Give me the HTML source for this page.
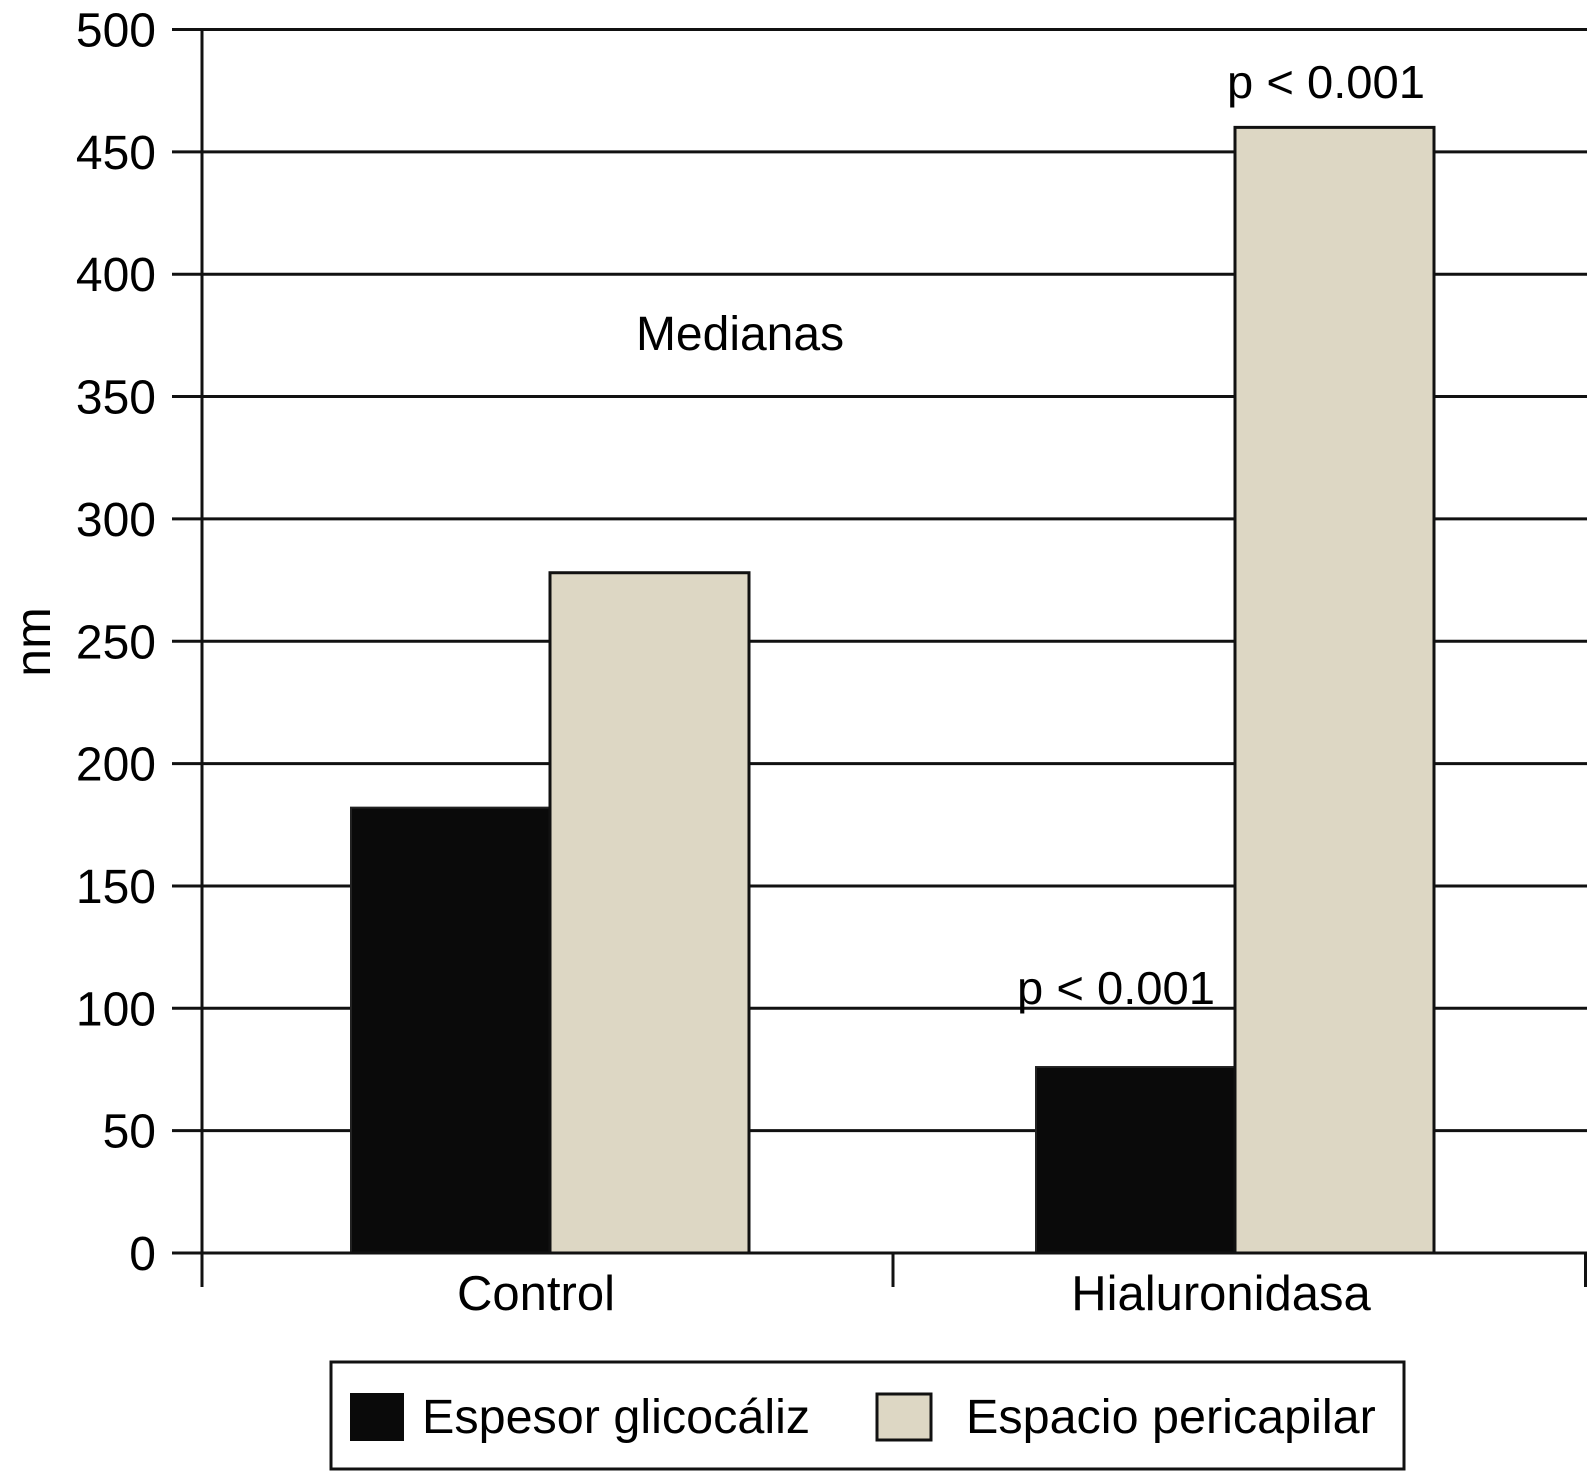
<!DOCTYPE html>
<html><head><meta charset="utf-8"><style>
html,body{margin:0;padding:0;background:#fff;}
svg{display:block;font-family:"Liberation Sans",Arial,sans-serif;}
</style></head><body>
<svg id="chart" width="1590" height="1473" viewBox="0 0 1590 1473">
<g id="grid"></g><g id="bars"></g><g id="axes"></g>
<text x="33" y="642" font-size="50" text-anchor="middle" dominant-baseline="central" transform="rotate(-90 33 642)">nm</text>
<text x="740" y="350" font-size="48" text-anchor="middle">Medianas</text>
<text x="1227" y="98" font-size="46" textLength="198" lengthAdjust="spacingAndGlyphs">p &lt; 0.001</text>
<text x="1017" y="1004" font-size="46" textLength="198" lengthAdjust="spacingAndGlyphs">p &lt; 0.001</text>
<g>
<rect x="331" y="1362" width="1073" height="107" fill="#fff" stroke="#111" stroke-width="3"/>
<rect x="350" y="1393" width="54" height="48" fill="#0a0a0a"/>
<text x="422" y="1433" font-size="48.5">Espesor glicocáliz</text>
<rect x="877" y="1394" width="54" height="46" fill="#ddd7c4" stroke="#111" stroke-width="3"/>
<text x="966" y="1433" font-size="48.5">Espacio pericapilar</text>
</g>
</svg>
<script>
const categories = ["Control", "Hialuronidasa"];
const glicocaliz = [182, 76];
const pericapilar = [278, 460];
const yTicks = [0, 50, 100, 150, 200, 250, 300, 350, 400, 450, 500];

const NS = "http://www.w3.org/2000/svg";
const y0 = 1253, yTop = 29.5, yMax = 500;
function y(v){ return y0 - (v / yMax) * (y0 - yTop); }
const axisX = 202, rightX = 1587;
const firstCenter = 550, groupStep = 685;
function groupCenter(i){ return firstCenter + groupStep * i; }
const barW = 199;
function mk(tag, attrs, parent){
  const el = document.createElementNS(NS, tag);
  for (const k in attrs) el.setAttribute(k, attrs[k]);
  parent.appendChild(el);
  return el;
}
const grid = document.getElementById("grid");
const bars = document.getElementById("bars");
const axes = document.getElementById("axes");
yTicks.forEach(t => {
  const gl = mk("line", {x1: 172, x2: rightX, y1: y(t), y2: y(t), stroke: "#111", "stroke-width": 3}, grid);
  
  
  const tx = mk("text", {x: 156, y: y(t) + 17, "font-size": 48, "text-anchor": "end"}, axes);
  tx.textContent = t;
  
  
});
categories.forEach((c, i) => {
  const cx = groupCenter(i);
  const b1 = mk("rect", {x: cx - barW, y: y(glicocaliz[i]), width: barW, height: y0 - y(glicocaliz[i]), fill: "#0a0a0a", stroke: "#222", "stroke-width": 2}, bars);
  
  
  const b2 = mk("rect", {x: cx, y: y(pericapilar[i]), width: barW, height: y0 - y(pericapilar[i]), fill: "#ddd7c4", stroke: "#111", "stroke-width": 3}, bars);
  
  
  const lbl = mk("text", {x: cx - 14, y: 1310, "font-size": 49, "text-anchor": "middle"}, axes);
  lbl.textContent = c;
  
  
});
const ya = mk("line", {x1: axisX, x2: axisX, y1: yTop - 1.5, y2: 1287, stroke: "#111", "stroke-width": 3}, axes);


const xa = mk("line", {x1: 172, x2: rightX, y1: y0, y2: y0, stroke: "#111", "stroke-width": 3}, axes);


[893, 1585.5].forEach((tx, k) => {
  const tk = mk("line", {x1: tx, x2: tx, y1: y0, y2: 1287, stroke: "#111", "stroke-width": 3}, axes);
  
  
});
</script>
</body></html>
